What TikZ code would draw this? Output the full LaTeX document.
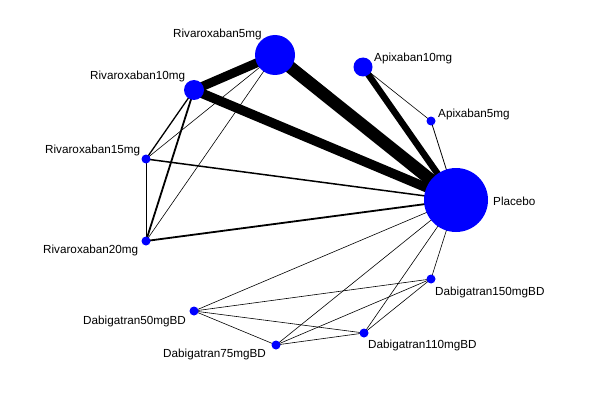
\documentclass[tikz,border=0pt]{standalone}
\usepackage{fontspec}
\setmainfont{Liberation Sans}
\usepackage{tikz}
\usetikzlibrary{backgrounds}
\definecolor{NodeBlue}{RGB}{0, 0, 255}

\tikzset{
  trt/.style={circle, fill=NodeBlue, inner sep=0pt},
  lab/.style={anchor=west, inner sep=0pt, font=\fontsize{11.7}{13}\selectfont},
  wk/.style={line width=0.6pt},
  md/.style={line width=1.5pt},
}

\begin{document}
\begin{tikzpicture}[x=1pt, y=-1pt]
    \useasboundingbox (0,0) rectangle (596,401);

    % Treatments
    \node[trt, minimum size=40pt] (riv5) at (275,55) {};
    \node[trt, minimum size=20pt] (riv10) at (194,90) {};
    \node[trt, minimum size=19pt] (api10) at (363,67) {};
    \node[trt, minimum size=9pt] (api5) at (431,121) {};
    \node[trt, minimum size=9pt] (riv15) at (146,159) {};
    \node[trt, minimum size=9pt] (riv20) at (146,241) {};
    \node[trt, minimum size=64pt] (plac) at (456,200) {};
    \node[trt, minimum size=9pt] (dab50) at (194,311) {};
    \node[trt, minimum size=9pt] (dab75) at (276,345) {};
    \node[trt, minimum size=9pt] (dab110) at (364,333) {};
    \node[trt, minimum size=9pt] (dab150) at (431,279) {};

    % Labels
    \node[lab] (lriv5) at (173,34) {Rivaroxaban5mg};
    \node[lab] (lriv10) at (90,76) {Rivaroxaban10mg};
    \node[lab] (lapi10) at (374,58) {Apixaban10mg};
    \node[lab] (lapi5) at (438,114) {Apixaban5mg};
    \node[lab] (lriv15) at (45,150) {Rivaroxaban15mg};
    \node[lab] (lriv20) at (43,250) {Rivaroxaban20mg};
    \node[lab] (lplac) at (493,201) {Placebo};
    \node[lab] (ldab50) at (83,321) {Dabigatran50mgBD};
    \node[lab] (ldab75) at (163,354) {Dabigatran75mgBD};
    \node[lab] (ldab110) at (368,345) {Dabigatran110mgBD};
    \node[lab] (ldab150) at (435,292) {Dabigatran150mgBD};

    \begin{pgfonlayer}{background}
    % Direct comparisons, width ~ number of trials
    \draw[line width=12.5pt] (riv5.center) -- (plac.center);
    \draw[line width=9.5pt] (riv10.center) -- (plac.center);
    \draw[line width=9pt] (riv10.center) -- (riv5.center);
    \draw[line width=6.5pt] (api10.center) -- (plac.center);
    \draw[wk] (api10.center) -- (api5.center);
    \draw[line width=0.8pt] (api5.center) -- (plac.center);

    % Rivaroxaban doses
    \draw[md] (riv15.center) -- (plac.center);
    \draw[line width=1.8pt] (riv20.center) -- (plac.center);
    \draw[line width=1pt] (riv15.center) -- (riv20.center);
    \draw[line width=1.3pt] (riv10.center) -- (riv15.center);
    \draw[line width=1.8pt] (riv10.center) -- (riv20.center);
    \draw[wk] (riv5.center) -- (riv15.center);
    \draw[wk] (riv5.center) -- (riv20.center);

    % Dabigatran doses
    \foreach \d in {dab50, dab75, dab110, dab150}
      \draw[wk] (\d.center) -- (plac.center);
    \draw[wk] (dab50.center) -- (dab75.center);
    \draw[wk] (dab50.center) -- (dab110.center);
    \draw[wk] (dab50.center) -- (dab150.center);
    \draw[wk] (dab75.center) -- (dab110.center);
    \draw[wk] (dab75.center) -- (dab150.center);
    \draw[wk] (dab110.center) -- (dab150.center);
    \end{pgfonlayer}
\end{tikzpicture}
\end{document}
